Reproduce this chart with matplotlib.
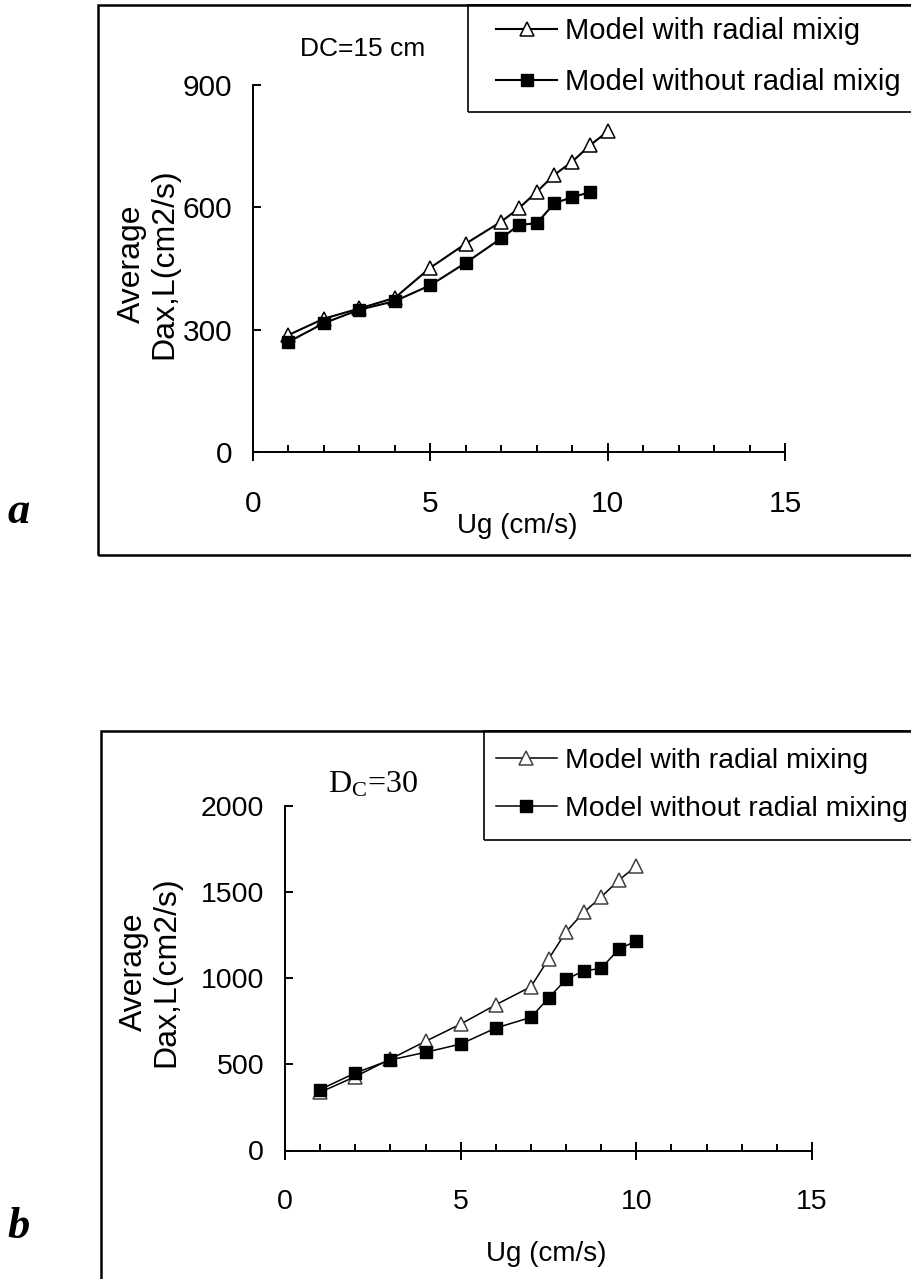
import matplotlib
matplotlib.use("Agg")
import matplotlib.pyplot as plt
from matplotlib.patches import Rectangle
from matplotlib.ticker import MultipleLocator

# ---- data -------------------------------------------------------------
# panel a : column diameter 15 cm
ug_a_with = [1, 2, 3, 4, 5, 6, 7, 7.5, 8, 8.5, 9, 9.5, 10]
dax_a_with = [287, 327, 352, 378, 452, 511, 565, 598, 638, 680, 712, 752, 786]
ug_a_without = [1, 2, 3, 4, 5, 6, 7, 7.5, 8, 8.5, 9, 9.5]
dax_a_without = [270, 316, 349, 370, 409, 464, 524, 557, 561, 610, 625, 637]

# panel b : column diameter 30 cm
ug_b_with = [1, 2, 3, 4, 5, 6, 7, 7.5, 8, 8.5, 9, 9.5, 10]
dax_b_with = [338, 429, 531, 634, 734, 846, 951, 1111, 1270, 1382, 1472, 1569, 1652]
ug_b_without = [1, 2, 3, 4, 5, 6, 7, 7.5, 8, 8.5, 9, 9.5, 10]
dax_b_without = [354, 450, 526, 570, 618, 711, 773, 885, 993, 1043, 1057, 1169, 1217]

yticks_a = [0, 300, 600, 900]
yticks_b = [0, 500, 1000, 1500, 2000]
xticks = [0, 5, 10, 15]

labels_a = ["Model with radial mixig", "Model without radial mixig"]
labels_b = ["Model with radial mixing", "Model without radial mixing"]

plt.rcParams["font.family"] = ["Liberation Sans", "DejaVu Sans"]

W, H = 912, 1279
fig = plt.figure(figsize=(W / 100, H / 100), dpi=100)


def fx(px):
    return px / W


def fy(py):
    return 1 - py / H


def panel(rect, xw, yw, xo, yo, yticks, ymax, lw, tri_edge, tick_fs):
    ax = fig.add_axes(rect)
    ax.plot(xw, yw, color="black", lw=lw, marker="^", ms=10, mfc="white",
            mec=tri_edge, mew=1.1, zorder=3)
    ax.plot(xo, yo, color="black", lw=lw, marker="s", ms=9, mfc="black",
            mec="black", zorder=4)
    ax.set_xlim(0, 15)
    ax.set_ylim(0, ymax)
    ax.set_xticks(xticks)
    ax.set_yticks(yticks)
    ax.xaxis.set_minor_locator(MultipleLocator(1))
    for s in ("top", "right"):
        ax.spines[s].set_visible(False)
    for s in ("left", "bottom"):
        ax.spines[s].set_linewidth(1.4)
    ax.tick_params(axis="x", which="major", direction="inout", length=13,
                   width=1.4, pad=21, labelsize=tick_fs)
    ax.tick_params(axis="x", which="minor", direction="in", length=5, width=1.4)
    ax.tick_params(axis="y", which="major", direction="in", length=6,
                   width=1.4, pad=15, labelsize=tick_fs)
    ax.patch.set_visible(False)
    return ax


# ---- panel a ----------------------------------------------------------
ax_a = panel([fx(253), fy(452), fx(532), 367 / H],
             ug_a_with, dax_a_with, ug_a_without, dax_a_without,
             yticks_a, 900, 1.5, "black", 21.5)
fig.add_artist(Rectangle((fx(98), fy(555)), 1.1, 550 / H, fill=False,
                         lw=1.8, ec="black", transform=fig.transFigure))
fig.add_artist(Rectangle((fx(468), fy(112)), 1.1, 107 / H, fill=False,
                         lw=1.2, ec="black", transform=fig.transFigure))
ax_a.legend(ax_a.lines, labels_a, loc="upper left",
            bbox_to_anchor=(fx(496), fy(17)), bbox_transform=fig.transFigure,
            frameon=False, borderpad=0, borderaxespad=0, handlelength=2.1,
            handletextpad=0.27, labelspacing=0.78, fontsize=21, numpoints=1)
fig.text(fx(363), fy(49), "DC=15 cm", fontsize=19, ha="center", va="center")
fig.text(fx(517), fy(526), "Ug (cm/s)", fontsize=20, ha="center", va="center")
fig.text(fx(148), fy(264), "Average\nDax,L(cm2/s)", fontsize=23, rotation=90,
         ha="center", va="center", multialignment="center", linespacing=1.1)
fig.text(fx(19), fy(512), "a", fontsize=32, family="Liberation Serif",
         weight="bold", style="italic", ha="center", va="center")

# ---- panel b ----------------------------------------------------------
ax_b = panel([fx(285), fy(1150.5), fx(527), 344.5 / H],
             ug_b_with, dax_b_with, ug_b_without, dax_b_without,
             yticks_b, 2000, 1.1, "#404040", 20.5)
fig.add_artist(Rectangle((fx(101), -0.01), 1.1, fy(731) + 0.01, fill=False,
                         lw=1.8, ec="black", transform=fig.transFigure))
fig.add_artist(Rectangle((fx(484), fy(840)), 1.1, 109 / H, fill=False,
                         lw=1.2, ec="black", transform=fig.transFigure))
ax_b.legend(ax_b.lines, labels_b, loc="upper left",
            bbox_to_anchor=(fx(496), fy(748)), bbox_transform=fig.transFigure,
            frameon=False, borderpad=0, borderaxespad=0, handlelength=2.15,
            handletextpad=0.28, labelspacing=0.78, fontsize=20.4, numpoints=1)
fig.text(fx(373), fy(785), r"$\mathregular{D_C}$=30", fontsize=23,
         family="Liberation Serif", ha="center", va="center")
fig.text(fx(546), fy(1254), "Ug (cm/s)", fontsize=20, ha="center", va="center")
fig.text(fx(150), fy(972), "Average\nDax,L(cm2/s)", fontsize=23, rotation=90,
         ha="center", va="center", multialignment="center", linespacing=1.1)
fig.text(fx(19), fy(1227), "b", fontsize=32, family="Liberation Serif",
         weight="bold", style="italic", ha="center", va="center")

fig.savefig("out.png", dpi=100)
